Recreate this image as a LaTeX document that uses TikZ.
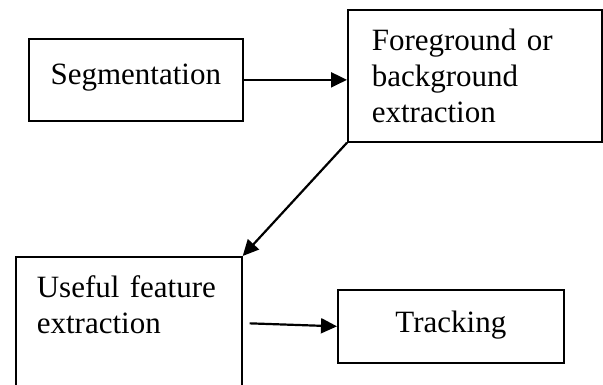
\documentclass[tikz,border=0pt]{standalone}
\usepackage{fontspec}
\setmainfont{Liberation Serif}
\usetikzlibrary{arrows.meta,calc}

\begin{document}
\begin{tikzpicture}[x=1pt,y=-1pt,
  every node/.style={draw,line width=1.7pt,anchor=north west,inner sep=0pt,font=\fontsize{31}{36}\selectfont},
  arr/.style={line width=2.2pt,-{Triangle[length=16pt,width=15pt]}}]
\path[use as bounding box,clip] (0,0) rectangle (603,385);

\node[minimum width=214pt,minimum height=82pt,text height=24pt,text depth=14pt] (seg) at (28,38) {Segmentation};
\node[minimum width=254pt,minimum height=132pt,inner xsep=24pt,text width=206pt,align=left] (fgbg) at (347,9) {Foreground or\\ background\\ extraction};
\node[minimum width=226pt,minimum height=150pt,inner xsep=21pt,text width=184pt,align=left,text depth=91pt] (feat) at (15,256) {Useful feature\\ extraction};
\node[minimum width=226pt,minimum height=73pt,text height=24pt,text depth=11pt] (trk) at (337,289) {Tracking};

\draw[arr] (seg.east) -- (seg.east -| fgbg.west);
\draw[arr] (fgbg.south west) -- (feat.north east);
\draw[arr] ($(feat.east |- trk.west)+(7,-3)$) -- (trk.west);
\end{tikzpicture}
\end{document}
